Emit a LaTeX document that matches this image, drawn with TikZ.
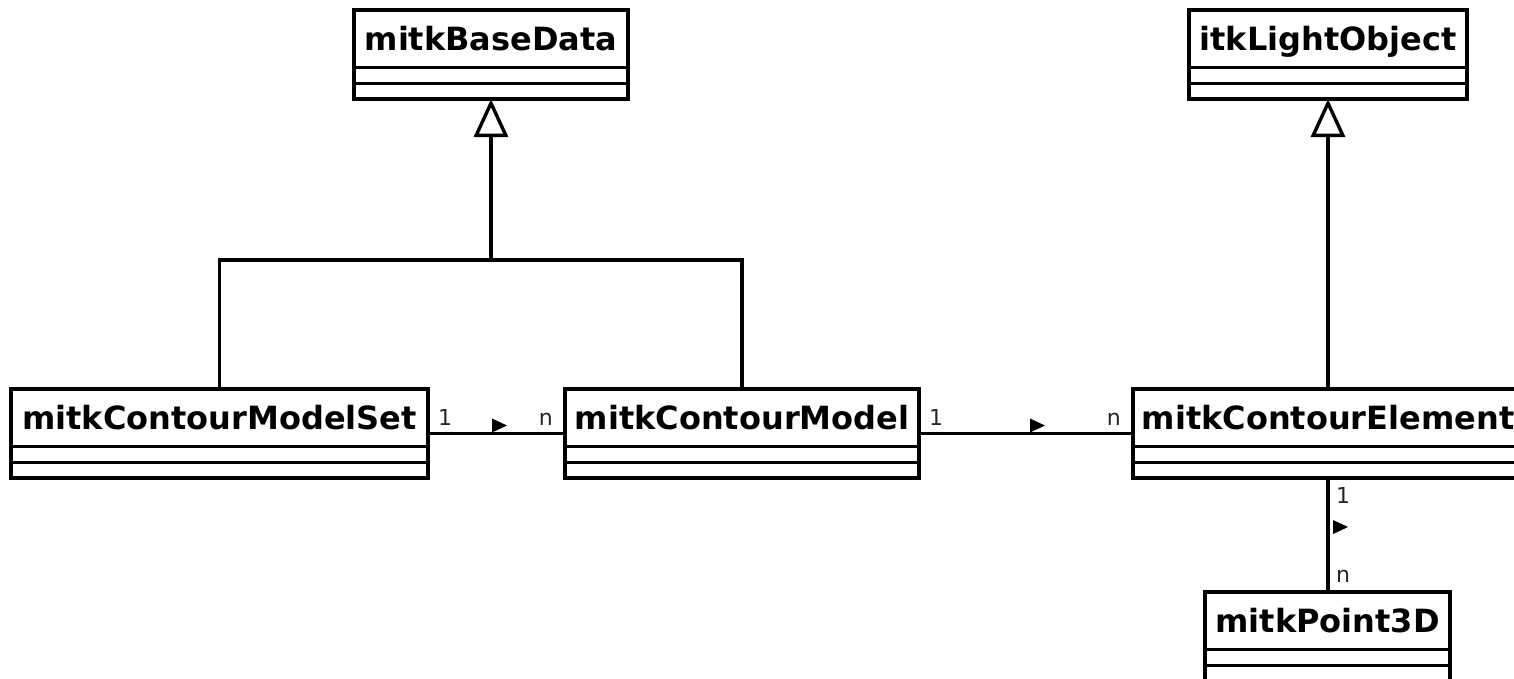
\documentclass[tikz,border=0pt]{standalone}
\usepackage{fontspec}
\setmainfont{DejaVu Sans}
\usetikzlibrary{arrows.meta,calc}
\newcommand\umlcls[5]{% name, x, y, width, text
  \node[box, minimum width=#4pt, minimum height=89pt] (#1) at (#2,#3) {};
  \node[title] (#1-t) at ($(#1.north)+(0,40)$) {#5};
  \draw[sep] ($(#1.north west)+(1.5,57.5)$) -- ($(#1.north east)+(-1.5,57.5)$);
  \draw[sep] ($(#1.north west)+(1.5,73.5)$) -- ($(#1.north east)+(-1.5,73.5)$);
}
\newcommand\dirtri[1]{\fill #1 ++(-7.5,-7) -- ++(0,14) -- ++(15,-7) -- cycle;}
\begin{document}
\begin{tikzpicture}[x=1pt,y=-1pt,
  box/.style={draw, line width=3.4pt, inner sep=0pt, outer sep=0pt, anchor=north west},
  sep/.style={line width=3.4pt},
  title/.style={font=\fontsize{32}{38}\selectfont\bfseries, anchor=base, inner sep=0pt},
  lbl/.style={font=\fontsize{22}{26}\selectfont, text=black!85, inner sep=0pt},
  conn/.style={line width=3.4pt},
  inh/.style={line width=3.4pt, -{Triangle[open, width=34pt, length=38pt]}},
]
\useasboundingbox (0,0) rectangle (1514,678);
\umlcls{bd}{354}{10}{274}{mitkBaseData}
\umlcls{lo}{1189}{10}{278}{itkLightObject}
\umlcls{ms}{11}{389}{417}{mitkContourModelSet}
\umlcls{cm}{565}{389}{354}{mitkContourModel}
\umlcls{ce}{1133}{389}{390}{mitkContourElement}
\umlcls{p3}{1205}{592}{245}{mitkPoint3D}
% generalisation
\coordinate (j1) at (491,260);
\draw[conn] (ms.north) |- (j1) -| (cm.north);
\draw[inh] (j1) -- (bd.south);
\draw[inh] (lo.south |- ce.north) -- (lo.south);
% associations
\draw[conn] (ms.east) -- (cm.west);
\draw[conn] (cm.east) -- (ce.west);
\draw[conn] (ce.south -| lo.south) -- (p3.north -| lo.south);
\node[lbl, anchor=base west] (l1) at ($(ms.east)+(10,-8)$) {1};
\node[lbl, anchor=base east] (l2) at ($(cm.west)+(-12,-8)$) {n};
\node[lbl, anchor=base west] (l3) at ($(cm.east)+(10,-8)$) {1};
\node[lbl, anchor=base east] (l4) at ($(ce.west)+(-12,-8)$) {n};
\node[lbl, anchor=base west] (l5) at ($(ce.south -| lo.south)+(8,25)$) {1};
\node[lbl, anchor=base west] (l6) at ($(p3.north -| lo.south)+(8,-10)$) {n};
\dirtri{($(ms.east)!0.5!(cm.west)+(3,-8)$)}
\dirtri{($(cm.east)!0.5!(ce.west)+(11.5,-8)$)}
\dirtri{($(ce.south -| lo.south)!0.5!(p3.north -| lo.south)+(12.5,-8)$)}
\end{tikzpicture}
\end{document}
